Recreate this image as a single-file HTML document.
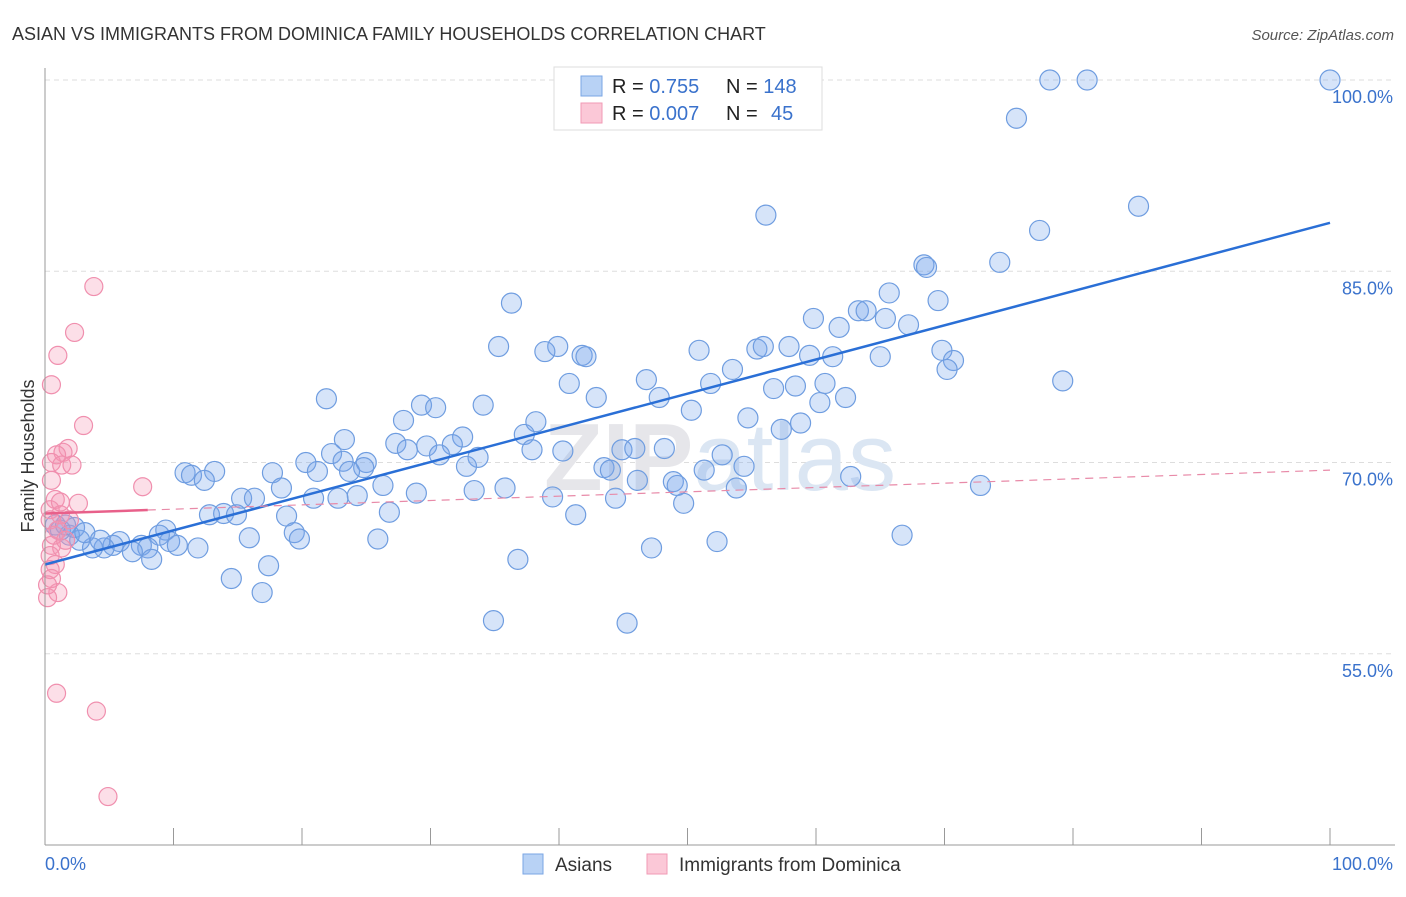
<!DOCTYPE html>
<html><head><meta charset="utf-8">
<style>
body{margin:0;background:#fff;font-family:"Liberation Sans",sans-serif;}
svg text{font-family:"Liberation Sans",sans-serif;}
</style></head>
<body>
<svg id="chart" width="1406" height="892" xmlns="http://www.w3.org/2000/svg">
<text x="12" y="40" font-size="18" fill="#333">ASIAN VS IMMIGRANTS FROM DOMINICA FAMILY HOUSEHOLDS CORRELATION CHART</text>
<text x="1394" y="40" font-size="15" fill="#555" text-anchor="end" font-style="italic">Source: ZipAtlas.com</text>
<g id="grid"></g>
<text x="720" y="490" font-size="96" font-weight="bold" fill="#e6e6ea" text-anchor="middle">ZIP<tspan font-weight="normal" fill="#dbe6f3">atlas</tspan></text>
<g id="pts"></g>
<g id="lines"></g>
<g id="axes"></g>
<text transform="translate(34,456) rotate(-90)" font-size="18" fill="#333" text-anchor="middle">Family Households</text>
<g>
<rect x="554" y="67" width="268" height="63" fill="#fff" stroke="#ddd"/>
<rect x="581" y="76" width="21" height="20" fill="#b8d2f5" stroke="#7aa6e4"/>
<rect x="581" y="103" width="21" height="20" fill="#fbc8d7" stroke="#f09ab4"/>
<text x="612" y="93" font-size="20" fill="#222">R = <tspan fill="#3a72cc">0.755</tspan><tspan x="726">N = </tspan><tspan fill="#3a72cc">148</tspan></text>
<text x="612" y="120" font-size="20" fill="#222">R = <tspan fill="#3a72cc">0.007</tspan><tspan x="726">N = </tspan><tspan fill="#3a72cc" x="771">45</tspan></text>
</g>
<g>
<rect x="523" y="854" width="20" height="20" fill="#b8d2f5" stroke="#7aa6e4"/>
<text x="555" y="871" font-size="19" fill="#333">Asians</text>
<rect x="647" y="854" width="20" height="20" fill="#fbc8d7" stroke="#f09ab4"/>
<text x="679" y="871" font-size="19" fill="#333">Immigrants from Dominica</text>
</g>
</svg>
<script>
const blueX=[78.2,81.1,100,75.6,56.1,85.1,77.4,68.4,68.6,74.3,65.7,69.5,36.3,63.3,63.9,65.4,59.8,67.2,61.8,35.3,39.9,38.9,41.8,42.1,50.9,55.4,55.9,57.9,59.5,61.3,65.0,69.8,70.7,70.2,79.2,46.8,40.8,51.8,53.5,56.7,58.4,60.7,42.9,47.8,62.3,60.3,21.9,29.3,30.4,34.1,50.3,54.7,27.9,38.2,58.8,57.3,37.3,32.5,23.3,27.3,29.7,31.7,28.2,22.3,30.7,33.7,40.3,37.9,44.9,45.9,48.2,52.7,20.3,23.2,25.0,24.8,32.8,43.5,44.0,51.3,54.4,21.2,23.7,10.9,11.4,13.2,17.7,12.4,62.7,46.1,48.9,49.2,53.8,72.8,26.3,18.4,35.8,33.4,28.9,39.5,44.4,24.3,22.8,20.9,15.3,16.3,49.7,26.8,12.8,13.9,14.9,18.8,41.3,66.7,9.4,8.9,19.4,19.8,15.9,25.9,52.3,11.9,9.7,10.3,7.5,8.0,6.8,5.8,5.3,4.6,3.7,2.7,1.9,1.2,0.8,1.6,2.3,3.1,4.3,8.3,47.2,36.8,17.4,14.5,16.9,34.9,45.3];
const blueY=[100,100,100,97.0,89.4,90.1,88.2,85.5,85.3,85.7,83.3,82.7,82.5,81.9,81.9,81.3,81.3,80.8,80.6,79.1,79.1,78.7,78.4,78.3,78.8,78.9,79.1,79.1,78.4,78.3,78.3,78.8,78.0,77.3,76.4,76.5,76.2,76.2,77.3,75.8,76.0,76.2,75.1,75.1,75.1,74.7,75.0,74.5,74.3,74.5,74.1,73.5,73.3,73.2,73.1,72.6,72.2,72.0,71.8,71.5,71.3,71.4,71.0,70.7,70.6,70.4,70.9,71.0,71.0,71.1,71.1,70.6,70.0,70.1,70.0,69.6,69.7,69.6,69.4,69.4,69.7,69.3,69.3,69.2,69.0,69.3,69.2,68.6,68.9,68.6,68.5,68.2,68.0,68.2,68.2,68.0,68.0,67.8,67.6,67.3,67.2,67.4,67.2,67.2,67.2,67.2,66.8,66.1,65.9,66.0,65.9,65.8,65.9,64.3,64.7,64.3,64.5,64.0,64.1,64.0,63.8,63.3,63.8,63.5,63.5,63.3,63.0,63.8,63.5,63.3,63.3,63.9,64.3,64.7,65.1,65.1,64.9,64.5,63.9,62.4,63.3,62.4,61.9,60.9,59.8,57.6,57.4];
const pinkX=[3.8,2.3,1.0,0.5,3.0,1.8,1.4,0.9,0.5,1.3,2.1,0.5,7.6,2.6,0.8,0.4,1.2,1.9,1.0,0.5,1.3,0.4,0.8,0.5,1.0,0.2,0.9,4.0,4.9,0.4,0.7,1.6,0.4,0.2,1.2];
const pinkY=[83.8,80.2,78.4,76.1,72.9,71.1,70.8,70.6,70.0,69.8,69.8,68.6,68.1,66.8,67.1,66.3,65.9,65.5,64.7,63.5,63.3,62.7,62.0,60.9,59.8,59.4,51.9,50.5,43.8,65.5,64.3,63.9,61.6,60.4,66.9];
const yTicks=[55,70,85,100];
const xTickVals=[0,10,20,30,40,50,60,70,80,90,100];
const blueTrend=[62.0,88.8];
const pinkTrend=[66.0,69.4];
const pinkSolidEnd=8;

const X0=45,X1=1330,Y0=845,YT=80;
const sx=v=>X0+(X1-X0)*v/100;
const sy=v=>Y0-(Y0-YT)*(v-40)/60;
const NS='http://www.w3.org/2000/svg';
function mk(tag,attrs,parent){const e=document.createElementNS(NS,tag);for(const k in attrs)e.setAttribute(k,attrs[k]);parent.appendChild(e);return e;}
const grid=document.getElementById('grid'),axes=document.getElementById('axes'),pts=document.getElementById('pts'),lines=document.getElementById('lines');
yTicks.forEach(t=>{
  const l=mk('line',{x1:X0,x2:1395,y1:sy(t),y2:sy(t),stroke:'#ddd','stroke-dasharray':'5,4'},grid);
  
  
  const tx=mk('text',{x:1393,y:sy(t)+23,'font-size':18,fill:'#3a72cc','text-anchor':'end'},axes);
  tx.textContent=t.toFixed(1)+'%';
  
  
});
mk('line',{x1:X0,x2:X0,y1:68,y2:Y0,stroke:'#999'},axes);
mk('line',{x1:X0,x2:1395,y1:Y0,y2:Y0,stroke:'#999'},axes);
xTickVals.forEach(t=>{
  const l=mk('line',{x1:sx(t),x2:sx(t),y1:828,y2:Y0,stroke:'#999'},axes);
  
  
});
[[0,'0.0%','start',45],[100,'100.0%','end',1393]].forEach(a=>{
  const tx=mk('text',{x:a[3],y:870,'font-size':18,fill:'#3a72cc','text-anchor':a[2]},axes);
  tx.textContent=a[1];
  
  
});
blueX.forEach((x,i)=>{
  const c=mk('circle',{cx:sx(x),cy:sy(blueY[i]),r:10,fill:'rgba(120,165,235,0.3)',stroke:'#6f9de0','stroke-width':1.2},pts);
  
  
});
pinkX.forEach((x,i)=>{
  const c=mk('circle',{cx:sx(x),cy:sy(pinkY[i]),r:9,fill:'rgba(245,150,180,0.3)',stroke:'#f08fae','stroke-width':1.2},pts);
  
  
});
const bl=mk('line',{x1:sx(0),y1:sy(blueTrend[0]),x2:sx(100),y2:sy(blueTrend[1]),stroke:'#2a6fd6','stroke-width':2.5},lines);


const pe=pinkTrend[0]+(pinkTrend[1]-pinkTrend[0])*pinkSolidEnd/100;
const pd=mk('line',{x1:sx(pinkSolidEnd),y1:sy(pe),x2:sx(100),y2:sy(pinkTrend[1]),stroke:'#e88aa8','stroke-width':1.2,'stroke-dasharray':'8,6'},lines);


const ps=mk('line',{x1:sx(0),y1:sy(pinkTrend[0]),x2:sx(pinkSolidEnd),y2:sy(pe),stroke:'#e8608a','stroke-width':2.5},lines);


</script>
</body></html>
